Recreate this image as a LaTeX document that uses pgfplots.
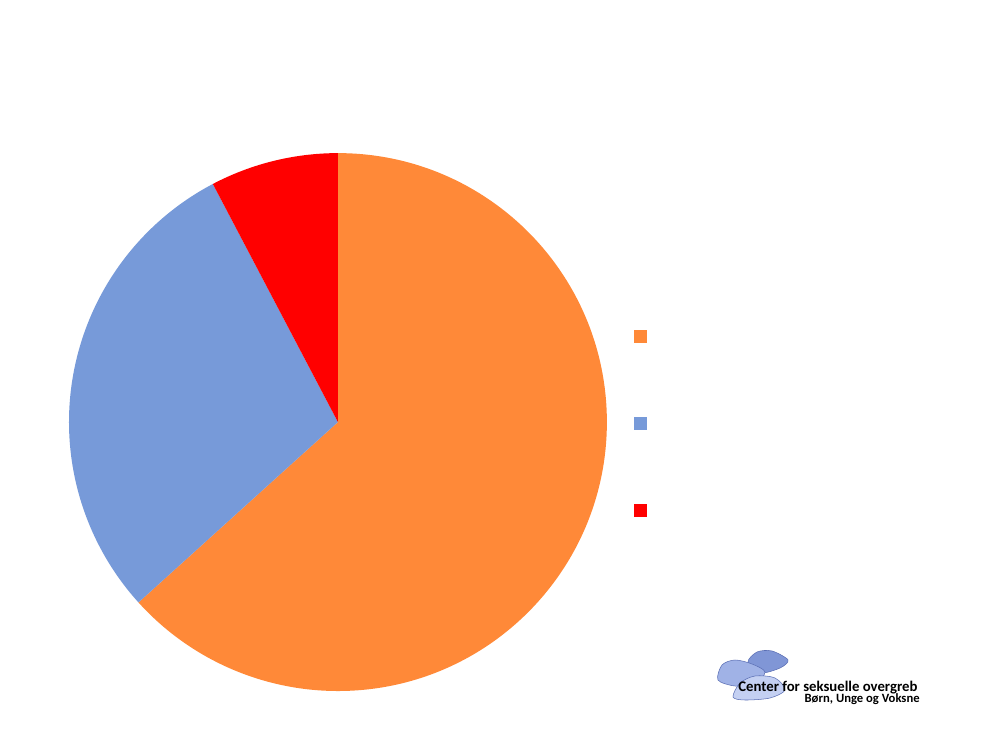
\documentclass[border=0pt]{standalone}
\usepackage{pgfplots}
\pgfplotsset{compat=1.18}
\usepackage{pgfplotstable}
\usepackage{fontspec}
\setmainfont{Carlito}
\definecolor{pieorange}{RGB}{255,137,56}
\definecolor{pieblue}{RGB}{119,154,217}
\definecolor{piered}{RGB}{255,0,0}
\definecolor{logodark}{RGB}{128,150,214}
\definecolor{logomid}{RGB}{160,178,230}
\definecolor{logolight}{RGB}{196,208,242}
\definecolor{logoline}{RGB}{90,110,180}
\pgfplotstableread{
idx value
0 63.3
1 29.0
2 7.7
}\piedata
\begin{document}
\begin{tikzpicture}[x=0.02cm,y=0.02cm]
\fill[white] (0,0) rectangle (1000,750);
\pgfplotstablegetelem{0}{value}\of\piedata \let\vA\pgfplotsretval
\pgfplotstablegetelem{1}{value}\of\piedata \let\vB\pgfplotsretval
\pgfplotstablegetelem{2}{value}\of\piedata \let\vC\pgfplotsretval
\pgfmathsetmacro{\aO}{90}
\pgfmathsetmacro{\aA}{90-3.6*\vA}
\pgfmathsetmacro{\aB}{\aA-3.6*\vB}
\pgfmathsetmacro{\aC}{\aB-3.6*\vC}
\begin{axis}[
  at={(6.76cm,6.56cm)}, anchor=center,
  scale only axis, width=10.76cm, height=10.76cm,
  xmin=-1, xmax=1, ymin=-1, ymax=1,
  hide axis, clip=false,
  legend style={at={(1.050,0.671)}, anchor=north west, draw=none, fill=none,
    inner sep=0pt, row sep=1.48cm, nodes={inner sep=0pt}},
  legend cell align=left,
]
\addlegendimage{legend image code/.code={\fill[pieorange] (0,-0.12cm) rectangle (0.24cm,0.12cm);}}
\addlegendentry{}
\addlegendimage{legend image code/.code={\fill[pieblue] (0,-0.12cm) rectangle (0.24cm,0.12cm);}}
\addlegendentry{}
\addlegendimage{legend image code/.code={\fill[piered] (0,-0.12cm) rectangle (0.24cm,0.12cm);}}
\addlegendentry{}
\fill[pieorange] (axis cs:0,0) -- (axis cs:{cos(\aO)},{sin(\aO)}) arc[start angle=\aO, end angle=\aA, radius=5.38cm] -- cycle;
\fill[pieblue] (axis cs:0,0) -- (axis cs:{cos(\aA)},{sin(\aA)}) arc[start angle=\aA, end angle=\aB, radius=5.38cm] -- cycle;
\fill[piered] (axis cs:0,0) -- (axis cs:{cos(\aB)},{sin(\aB)}) arc[start angle=\aB, end angle=\aC, radius=5.38cm] -- cycle;
\end{axis}
% logo
\filldraw[fill=logodark, draw=logoline, line width=0.3pt]
  plot[smooth cycle] coordinates {(748,88) (757,98) (772,99) (788,90) (780,82) (760,77)};
\filldraw[fill=logomid, draw=logoline, line width=0.3pt]
  plot[smooth cycle] coordinates {(718,70) (722,85) (735,90) (752,86) (765,78) (755,66) (735,64)};
\filldraw[fill=logolight, draw=logoline, line width=0.3pt]
  plot[smooth cycle] coordinates {(733,53) (740,67) (755,74) (775,72) (785,60) (770,52) (745,50)};
\node[anchor=base west, inner sep=0pt, font=\fontsize{8.4pt}{10pt}\selectfont\bfseries] at (738,58) {Center for seksuelle overgreb};
\node[anchor=base east, inner sep=0pt, font=\fontsize{7.2pt}{9pt}\selectfont\bfseries] at (920,47) {Børn, Unge og Voksne};
\end{tikzpicture}
\end{document}
